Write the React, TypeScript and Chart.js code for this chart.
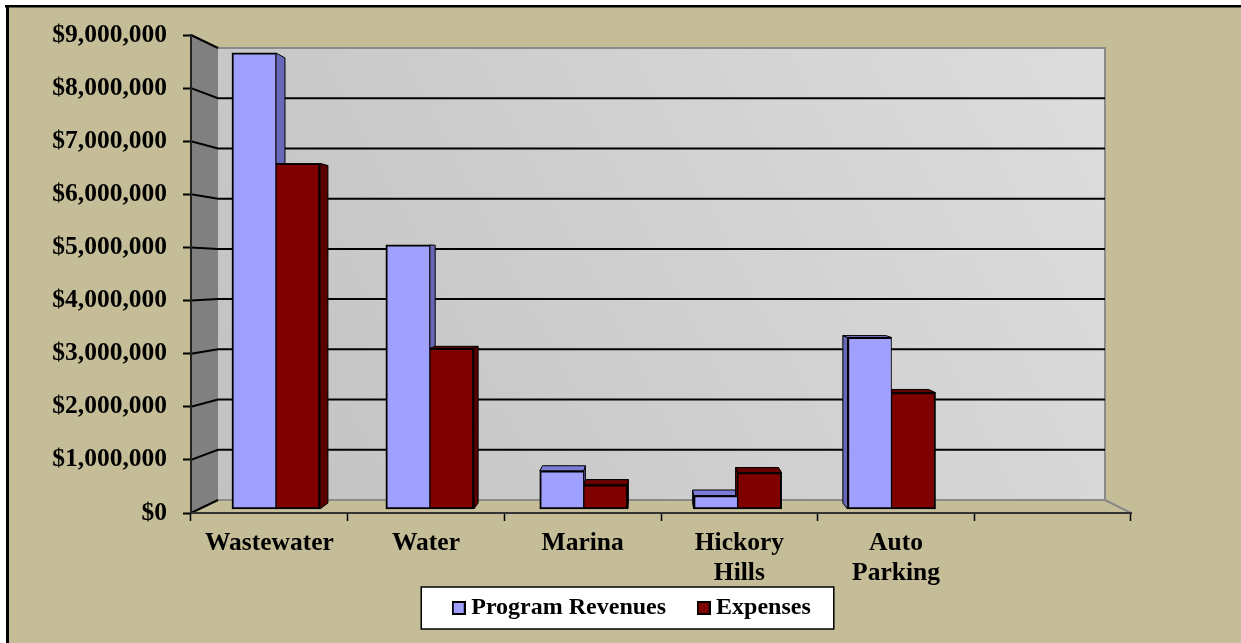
import React, { useEffect, useRef } from 'react';
import { Chart, registerables } from 'chart.js';

Chart.register(...registerables);

// ---------- data ----------
const categories = ['Wastewater', 'Water', 'Marina', ['Hickory', 'Hills'], ['Auto', 'Parking'], ''];
const seriesNames = ['Program Revenues', 'Expenses'];
const programRevenues = [8720000, 5050000, 730000, 255000, 3280000];
const expenses = [6610000, 3070000, 460000, 695000, 2225000];
const yTickValues = [0, 1000000, 2000000, 3000000, 4000000, 5000000, 6000000, 7000000, 8000000, 9000000];
const yTickLabels = ['$0', '$1,000,000', '$2,000,000', '$3,000,000', '$4,000,000', '$5,000,000', '$6,000,000', '$7,000,000', '$8,000,000', '$9,000,000'];

// ---------- styles ----------
const FONT = "'Liberation Serif', 'Times New Roman', serif";
const BG = '#C4BD97';
const FRONT = ['#A0A0FF', '#800000'];
const SIDE = ['#6868B8', '#5A0000'];
const TOP = ['#7C7CD6', '#660000'];

function makeIcon(color: string) {
  const c = document.createElement('canvas');
  c.width = 14;
  c.height = 14;
  const g = c.getContext('2d')!;
  g.fillStyle = '#000';
  g.fillRect(0, 0, 14, 14);
  g.fillStyle = color;
  g.fillRect(2, 2, 10, 10);
  return c;
}

// widen the label clip regions so long labels are not cut off
const labelRoomPlugin = {
  id: 'labelRoom',
  afterLayout(chart: any) {
    chart.scales.y.left = 0;
    chart.scales.x.bottom = chart.height;
  },
};

const wallsPlugin = {
  id: 'walls3d',
  beforeDraw(chart: any) {
    const { ctx, chartArea: a, width, height } = chart;
    ctx.save();
    ctx.fillStyle = '#ffffff';
    ctx.fillRect(0, 0, width, height);
    ctx.fillStyle = BG;
    ctx.fillRect(6, 6, width, height);
    ctx.fillStyle = '#000';
    ctx.fillRect(5, 5, width, 2.5);
    ctx.fillRect(6, 5, 3, height);

    // legend frame
    const lg = chart.legend;
    if (lg && lg.legendHitBoxes && lg.legendHitBoxes.length) {
      const hb = lg.legendHitBoxes;
      const last = hb[hb.length - 1];
      const lx = hb[0].left - 37;
      const rx = last.left + last.width + 23;
      const ty = hb[0].top - 9;
      const by = hb[0].top + hb[0].height + 9;
      ctx.fillStyle = '#ffffff';
      ctx.fillRect(lx, ty, rx - lx, by - ty);
      ctx.strokeStyle = '#000';
      ctx.lineWidth = 1.5;
      ctx.strokeRect(lx, ty, rx - lx, by - ty);
    }

    const bl = a.left + 27, br = a.right - 26, bt = a.top + 13, bb = a.bottom - 13;
    // side wall
    ctx.beginPath();
    ctx.moveTo(a.left, a.top);
    ctx.lineTo(bl, bt);
    ctx.lineTo(bl, bb);
    ctx.lineTo(a.left, a.bottom);
    ctx.closePath();
    ctx.fillStyle = '#808080';
    ctx.fill();
    // back wall
    const grad = ctx.createLinearGradient(bl, bb, br, bt);
    grad.addColorStop(0, '#C2C2C2');
    grad.addColorStop(1, '#DDDDDD');
    ctx.fillStyle = grad;
    ctx.fillRect(bl, bt, br - bl, bb - bt);
    // wall edges
    ctx.strokeStyle = '#8a8a8a';
    ctx.lineWidth = 2;
    ctx.beginPath();
    ctx.moveTo(bl, bt);
    ctx.lineTo(br, bt);
    ctx.lineTo(br, bb);
    ctx.lineTo(bl, bb);
    ctx.moveTo(br, bb);
    ctx.lineTo(a.right, a.bottom);
    ctx.stroke();

    // grid lines
    const ys = chart.scales.y;
    const maxV = yTickValues[yTickValues.length - 1];
    ctx.strokeStyle = '#000';
    ctx.lineWidth = 2;
    yTickValues.forEach((v) => {
      const yf = ys.getPixelForValue(v);
      const yb = bt + (yf - a.top) * (bb - bt) / (a.bottom - a.top);
      ctx.beginPath();
      ctx.moveTo(a.left, yf);
      ctx.lineTo(bl, yb);
      if (v !== 0 && v !== maxV) ctx.lineTo(br, yb);
      ctx.stroke();
    });
    ctx.restore();
  },
};

const bar3dPlugin = {
  id: 'bar3d',
  beforeDatasetsDraw(chart: any) {
    const { ctx, chartArea: a } = chart;
    const vx = a.left + 461, vy = a.top + 225, d = 0.024;
    const sh = (px: number, py: number) => [px + (vx - px) * d, py + (vy - py) * d];
    ctx.save();
    ctx.lineWidth = 1;
    ctx.strokeStyle = '#000';
    ctx.lineJoin = 'round';
    chart.data.datasets.forEach((ds: any, di: number) => {
      const meta = chart.getDatasetMeta(di);
      meta.data.forEach((el: any) => {
        const { x, y, base, width } = el.getProps(['x', 'y', 'base', 'width'], true);
        const L = x - width / 2, R = x + width / 2;
        const sx = vx > R ? R : vx < L ? L : null;
        if (sx !== null) {
          const p1 = sh(sx, y), p2 = sh(sx, base);
          ctx.beginPath();
          ctx.moveTo(sx, y);
          ctx.lineTo(p1[0], p1[1]);
          ctx.lineTo(p2[0], p2[1]);
          ctx.lineTo(sx, base);
          ctx.closePath();
          ctx.fillStyle = SIDE[di];
          ctx.fill();
          ctx.stroke();
        }
        if (y > vy) {
          const q1 = sh(R, y), q2 = sh(L, y);
          ctx.beginPath();
          ctx.moveTo(L, y);
          ctx.lineTo(R, y);
          ctx.lineTo(q1[0], q1[1]);
          ctx.lineTo(q2[0], q2[1]);
          ctx.closePath();
          ctx.fillStyle = TOP[di];
          ctx.fill();
          ctx.stroke();
        }
      });
    });
    ctx.restore();
  },
};

export default function App() {
  const ref = useRef<HTMLCanvasElement | null>(null);

  useEffect(() => {
    if (!ref.current) return;
    const icons = [makeIcon(FRONT[0]), makeIcon(FRONT[1])];
    const series = [programRevenues, expenses];
    const tickFont = { family: FONT, size: 25.5, weight: 'bold' as const, lineHeight: 1.18 };
    const chart = new Chart(ref.current, {
      type: 'bar',
      data: {
        datasets: series.map((vals, i) => ({
          label: seriesNames[i],
          data: vals.map((v, j) => ({ x: j, y: v })),
          backgroundColor: FRONT[i],
          borderColor: '#000',
          borderWidth: i === 0 ? { top: 2, left: 2, bottom: 2, right: 1 } : { top: 2, left: 1, bottom: 2, right: 2 },
          borderSkipped: false,
          barThickness: 44,
          xAxisID: 'xb',
          yAxisID: 'yb',
        })),
      },
      options: {
        responsive: false,
        animation: false,
        layout: { padding: { left: 138, right: 110, top: 35, bottom: 13 } },
        plugins: {
          tooltip: { enabled: false },
          legend: {
            position: 'bottom',
            labels: {
              usePointStyle: true,
              boxWidth: 1,
              padding: 37,
              color: '#000',
              font: { family: FONT, size: 24, weight: 'bold' },
              generateLabels: (c: any) =>
                c.data.datasets.map((ds: any, i: number) => ({
                  text: ds.label,
                  pointStyle: icons[i],
                  datasetIndex: i,
                  hidden: false,
                  lineWidth: 0,
                  fillStyle: FRONT[i],
                  strokeStyle: '#000',
                  fontColor: '#000',
                })),
            },
          },
        },
        scales: {
          x: {
            type: 'category',
            labels: categories as any,
            position: 'bottom',
            offset: true,
            grid: {
              display: true,
              offset: true,
              drawOnChartArea: false,
              drawTicks: true,
              tickLength: 8,
              tickColor: '#000',
              tickWidth: 1.5,
            },
            border: { display: true, color: '#333', width: 2 },
            ticks: { color: '#000', font: tickFont, padding: 7, maxRotation: 0, autoSkip: false },
            afterFit: (s: any) => {
              s.height = 46;
            },
          },
          y: {
            type: 'linear',
            position: 'left',
            min: yTickValues[0],
            max: yTickValues[yTickValues.length - 1],
            afterBuildTicks: (s: any) => {
              s.ticks = yTickValues.map((v) => ({ value: v }));
            },
            ticks: {
              color: '#000',
              font: { family: FONT, size: 25.5, weight: 'bold' },
              padding: 16,
              callback: (_v: any, i: number) => yTickLabels[i],
            },
            grid: {
              display: true,
              drawOnChartArea: false,
              drawTicks: true,
              tickLength: 8,
              tickColor: '#000',
              tickWidth: 2,
            },
            border: { display: true, color: '#222', width: 2 },
            afterFit: (s: any) => {
              s.width = 53;
            },
          },
          xb: { type: 'linear', display: false, offset: false, min: -0.552, max: 5.556 },
          yb: { type: 'linear', display: false, min: -76500, max: 9063000 },
        },
      },
      plugins: [labelRoomPlugin, wallsPlugin, bar3dPlugin],
    } as any);
    return () => chart.destroy();
  }, []);

  return (
    <div style={{ position: 'absolute', left: 0, top: 0, width: 1241, height: 643 }}>
      <canvas ref={ref} width={1241} height={643} style={{ display: 'block' }} />
    </div>
  );
}
